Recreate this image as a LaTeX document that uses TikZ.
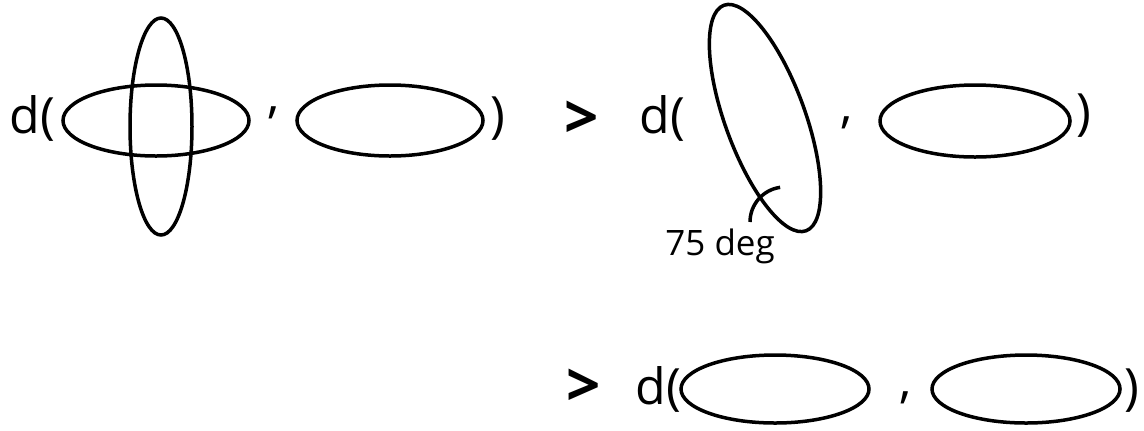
\documentclass[tikz,border=0pt]{standalone}
\usepackage{fontspec}
\setmainfont{Open Sans}
\usetikzlibrary{positioning}

\begin{document}
\begin{tikzpicture}[x=0.5pt,y=-0.5pt,
  txt/.style={inner sep=0pt,anchor=base west,font=\fontsize{25}{29}\selectfont},
  sym/.style={inner sep=0pt,font=\bfseries\fontsize{30}{34}\selectfont},
  loop/.style={line width=1.75pt}]
\useasboundingbox (0,0) rectangle (1144,430);
% first row, left side
\node[txt] (d1) at (9,133) {d(};
\draw[loop] (156,120.5) ellipse [x radius=93,y radius=35.5];
\draw[loop] (161,126.5) ellipse [x radius=31,y radius=108.5];
\node[txt,anchor=base] (c1) at (274,112) {,};
\draw[loop] (390,120.5) ellipse [x radius=93,y radius=35.5];
\node[txt] (p1) at (490,132) {)};
% first row, right side
\node[sym] (gt1) at (582,120) {>};
\node[txt] (d2) at (639,133) {d(};
\draw[loop,rotate around={20:(765,118)}] (765,118) ellipse [x radius=40,y radius=120];
\draw[loop] (750,222) arc[start angle=180,end angle=262,radius=35];
\node[txt,font=\fontsize{17.5}{20}\selectfont] (deg) at (665,255) {75 deg};
\node[txt,anchor=base] (c2) at (847,122) {,};
\draw[loop] (975,121) ellipse [x radius=95,y radius=36];
\node[txt] (p2) at (1076,129) {)};
% second row
\node[sym] (gt2) at (584,388) {>};
\node[txt] (d3) at (635,404) {d(};
\draw[loop] (775,389) ellipse [x radius=94,y radius=34];
\node[txt,anchor=base] (c3) at (906,397) {,};
\draw[loop] (1026,389) ellipse [x radius=94,y radius=34];
\node[txt] (p3) at (1124,404) {)};
\end{tikzpicture}
\end{document}
